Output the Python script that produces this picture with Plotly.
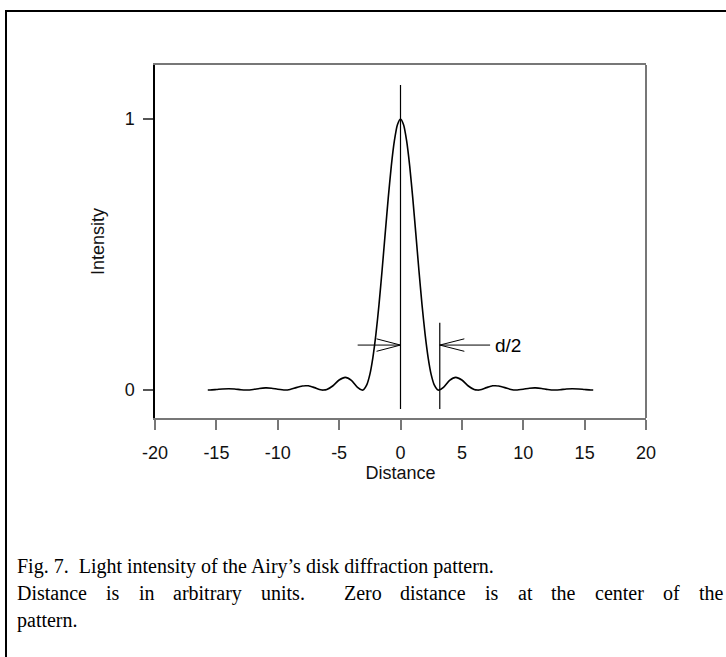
import plotly.graph_objects as go

# Intensity profile (distance, intensity)
distance = [-15.7, -15.5, -15, -14.5, -14, -13.5, -13, -12.57, -12, -11.5, -11, -10.5, -10,
            -9.42, -9, -8.5, -8, -7.73, -7.5, -7, -6.5, -6.28, -6, -5.5, -5, -4.5, -4, -3.5,
            -3.14, -3, -2.75, -2.5, -2.25, -2, -1.75, -1.5, -1.25, -1, -0.75, -0.5, -0.25,
            0, 0.25, 0.5, 0.75, 1, 1.25, 1.5, 1.75, 2, 2.25, 2.5, 2.75, 3, 3.14, 3.5, 4,
            4.5, 5, 5.5, 6, 6.28, 6.5, 7, 7.5, 7.73, 8, 8.5, 9, 9.42, 10, 10.5, 11, 11.5,
            12, 12.57, 13, 13.5, 14, 14.5, 15, 15.5, 15.7]
intensity = [0, 0.0002, 0.002, 0.004, 0.005, 0.004, 0.001, 0, 0.002, 0.006, 0.008, 0.007, 0.003,
             0, 0.002, 0.009, 0.015, 0.016, 0.016, 0.009, 0.001, 0, 0.002, 0.016, 0.037, 0.047, 0.036, 0.010,
             0, 0.002, 0.019, 0.057, 0.120, 0.207, 0.316, 0.442, 0.576, 0.708, 0.826, 0.919, 0.979,
             1.0, 0.979, 0.919, 0.826, 0.708, 0.576, 0.442, 0.316, 0.207, 0.120, 0.057, 0.019, 0.002, 0, 0.010, 0.036,
             0.047, 0.037, 0.016, 0.002, 0, 0.001, 0.009, 0.016, 0.016, 0.015, 0.009, 0.002, 0, 0.003, 0.007, 0.008, 0.006,
             0.002, 0, 0.001, 0.004, 0.005, 0.004, 0.002, 0.0002, 0]

x_ticks = [-20, -15, -10, -5, 0, 5, 10, 15, 20]
y_ticks = [0, 1]
center_x = 0          # centre of the pattern
half_d_x = 3.2        # first minimum (d/2)
arrow_y = 0.166       # height of the d/2 arrows
caption_line1 = "Fig. 7.\u00a0 Light intensity of the Airy\u2019s disk diffraction pattern."
caption_line2 = ["Distance", "is", "in", "arbitrary", "units.", "", "Zero", "distance", "is",
                 "at", "the", "center", "of", "the"]   # justified line ("" = double space)
caption_line3 = "pattern."

SANS = "Liberation Sans, Arial, sans-serif"
SERIF = "Liberation Serif, Times New Roman, serif"

# plot area in pixels: x 155..646, y 65..418
L, R, T, B = 155, 646, 65, 418
def px(xp):
    return (xp - L) / (R - L)
def py(yp):
    return (B - yp) / (B - T)

# Times advance widths (1/1000 em) for laying out the justified caption line
TW = {'D': 722, 'Z': 611, 'a': 444, 'b': 500, 'c': 444, 'd': 500, 'e': 444, 'f': 333, 'h': 500,
      'i': 278, 'n': 500, 'o': 500, 'r': 333, 's': 389, 't': 278, 'u': 500, 'y': 500, '.': 250}
CAP_SIZE = 20
def word_w(w):
    return sum(TW.get(ch, 500) for ch in w) * CAP_SIZE / 1000.0

fig = go.Figure()
fig.add_trace(go.Scatter(x=distance, y=intensity, mode="lines",
                         line=dict(color="black", width=1.6, shape="spline", smoothing=0.6),
                         hoverinfo="skip", showlegend=False))

shapes = []
shapes.append(dict(type="line", xref="x", yref="y", x0=center_x, x1=center_x, y0=-0.07, y1=1.125,
                   line=dict(color="black", width=1.2)))
shapes.append(dict(type="line", xref="x", yref="y", x0=half_d_x, x1=half_d_x, y0=-0.07, y1=0.248,
                   line=dict(color="black", width=1.2)))
shapes.append(dict(type="line", xref="x", yref="y", x0=-3.49, x1=center_x, y0=arrow_y, y1=arrow_y,
                   line=dict(color="black", width=1)))
for dy in (0.023, -0.023):
    shapes.append(dict(type="line", xref="x", yref="y", x0=center_x - 1.95, x1=center_x,
                       y0=arrow_y + dy, y1=arrow_y, line=dict(color="black", width=1)))
shapes.append(dict(type="line", xref="x", yref="y", x0=half_d_x, x1=7.3, y0=arrow_y, y1=arrow_y,
                   line=dict(color="black", width=1)))
for dy in (0.023, -0.023):
    shapes.append(dict(type="line", xref="x", yref="y", x0=half_d_x + 2.0, x1=half_d_x,
                       y0=arrow_y + dy, y1=arrow_y, line=dict(color="black", width=1)))
shapes.append(dict(type="line", xref="paper", yref="paper", x0=1, x1=1, y0=0, y1=1,
                   line=dict(color="#777777", width=2)))
shapes.append(dict(type="line", xref="paper", yref="paper", x0=px(6), x1=px(6), y0=py(10), y1=py(700),
                   line=dict(color="black", width=2)))
shapes.append(dict(type="line", xref="paper", yref="paper", x0=px(5), x1=px(760), y0=py(11), y1=py(11),
                   line=dict(color="black", width=2)))

annotations = [dict(x=7.5, y=arrow_y, xref="x", yref="y", text="d/2", showarrow=False,
                    xanchor="left", yanchor="middle", font=dict(family=SANS, size=19, color="black"))]

cap_font = dict(family=SERIF, size=CAP_SIZE, color="black")
x_start, x_end = 15, 721
y_lines = [566, 593, 620]
annotations.append(dict(x=px(x_start), y=py(y_lines[0]), xref="paper", yref="paper", text=caption_line1,
                        showarrow=False, xanchor="left", yanchor="middle", font=cap_font))
annotations.append(dict(x=px(x_start), y=py(y_lines[2]), xref="paper", yref="paper", text=caption_line3,
                        showarrow=False, xanchor="left", yanchor="middle", font=cap_font))
# justified line: word spacing stretched so the line fills the column
words_total = sum(word_w(w) for w in caption_line2)
gap = (x_end - x_start - words_total) / (len(caption_line2) - 1)
cx = x_start
for w in caption_line2:
    if w:
        annotations.append(dict(x=px(cx), y=py(y_lines[1]), xref="paper", yref="paper", text=w,
                                showarrow=False, xanchor="left", yanchor="middle", font=cap_font))
    cx += word_w(w) + gap

fig.update_layout(
    width=726, height=657, autosize=False,
    margin=dict(l=L, r=726 - R, t=T, b=657 - B, pad=0),
    paper_bgcolor="white", plot_bgcolor="white",
    shapes=shapes, annotations=annotations,
    xaxis=dict(range=[-20, 20], tickvals=x_ticks, ticktext=[str(v) for v in x_ticks],
               ticks="outside", ticklen=10, tickcolor="#777777", tickwidth=1.5,
               showline=True, linecolor="#777777", linewidth=2, mirror=True,
               showgrid=False, zeroline=False, ticklabelstandoff=7,
               tickfont=dict(family=SANS, size=18, color="#111111"),
               title=dict(text="Distance", font=dict(family=SANS, size=18, color="#111111"), standoff=3)),
    yaxis=dict(range=[-0.103, 1.199], tickvals=y_ticks, ticktext=[str(v) for v in y_ticks],
               ticks="outside", ticklen=10, tickcolor="#555555", tickwidth=1.5,
               showline=True, linecolor="black", linewidth=1.5,
               showgrid=False, zeroline=False, ticklabelstandoff=5,
               tickfont=dict(family=SANS, size=18, color="#111111"),
               title=dict(text="Intensity", font=dict(family=SANS, size=18, color="#111111"), standoff=15)),
)

fig.write_html("out.html", config={"displayModeBar": False},
               post_script="document.body.style.margin='0';")
